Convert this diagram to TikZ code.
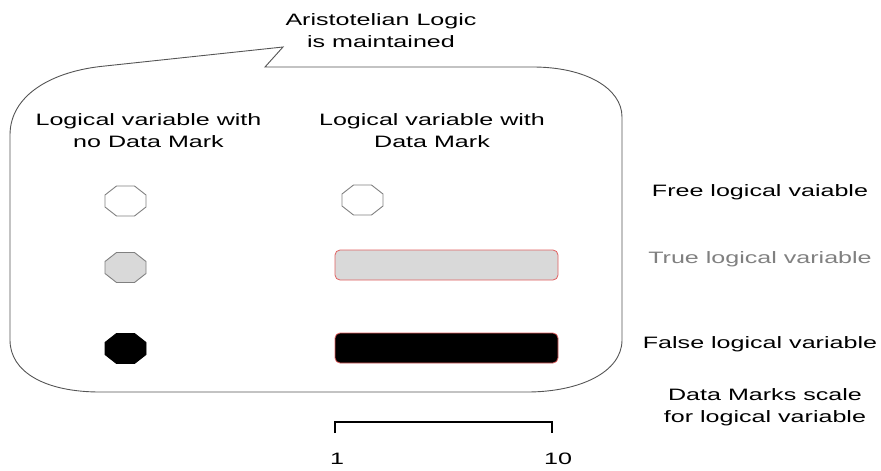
\documentclass[tikz,border=0pt]{standalone}
\usepackage{fontspec}
\setmainfont{Liberation Sans}[FakeStretch=1.52]
\definecolor{bubble}{HTML}{555555}
\definecolor{octline}{HTML}{808080}
\definecolor{lightfill}{HTML}{D9D9D9}
\definecolor{markred}{HTML}{E06060}
\definecolor{graytext}{HTML}{808080}
\newcommand{\octa}[3]{%
  \coordinate (#1) at #2;
  \draw[#3] (#1) +(-9,-15) -- +(9,-15) -- +(20.5,-6) -- +(20.5,6) -- +(9,15) -- +(-9,15) -- +(-20.5,6) -- +(-20.5,-6) -- cycle;}
\begin{document}
\begin{tikzpicture}[x=1pt,y=-1pt,
  lbl/.style={inner sep=0pt, anchor=base, font=\fontsize{16.5}{22}\selectfont, align=center},
  octfree/.style={draw=octline, line width=0.9pt, fill=white},
  octtrue/.style={draw=octline, line width=0.9pt, fill=lightfill},
  octfalse/.style={draw=black, line width=0.9pt, fill=black},
  markbar/.style={draw=markred, line width=0.8pt, rounded corners=5pt, minimum width=223pt, minimum height=30pt, inner sep=0pt},
  scaleline/.style={line width=2pt}]
\useasboundingbox (0,0) rectangle (881,471);
% callout bubble
\coordinate (tip) at (283,47);
\draw[bubble, line width=0.9pt, line join=miter]
  (tip) -- (265,67) -- (533,67)
  .. controls (585,67) and (622,88) .. (622,117)
  -- (622,340)
  .. controls (622,372) and (580,392) .. (527,392)
  -- (100,392)
  .. controls (45,392) and (10,372) .. (10,340)
  -- (10,135)
  .. controls (10,95) and (52,71) .. (105,66)
  -- cycle;
% title (base anchor = last line baseline)
\node[lbl] (title) at (381,47) {Aristotelian Logic\\is maintained};
% headers
\node[lbl] (hl) at (148.5,147) {Logical variable with\\no Data Mark};
\node[lbl] (hr) at (432,147) {Logical variable with\\Data Mark};
% octagons
\octa{o1}{(125.5,201)}{octfree}
\octa{o2}{(125.5,267.5)}{octtrue}
\octa{o3}{(125.5,348.5)}{octfalse}
\octa{o4}{(362.5,200)}{octfree}
% data mark bars
\node[markbar, fill=lightfill] (b2) at (446.5,265) {};
\node[markbar, fill=black] (b3) at (446.5,348) {};
% right labels
\node[lbl] (lfree) at (760,196) {Free logical vaiable};
\node[lbl, text=graytext] (ltrue) at (760,263) {True logical variable};
\node[lbl] (lfalse) at (760,348) {False logical variable};
\node[lbl] (lscale) at (765,422) {Data Marks scale\\for logical variable};
% scale
\coordinate (s1) at (335,433);
\coordinate (s2) at (335,422);
\coordinate (s3) at (552,422);
\coordinate (s4) at (552,433);
\draw[scaleline] (s1) -- (s2) -- (s3) -- (s4);
\node[lbl] (n1) at (337,464) {1};
\node[lbl] (n10) at (558,464) {10};
\end{tikzpicture}
\end{document}
